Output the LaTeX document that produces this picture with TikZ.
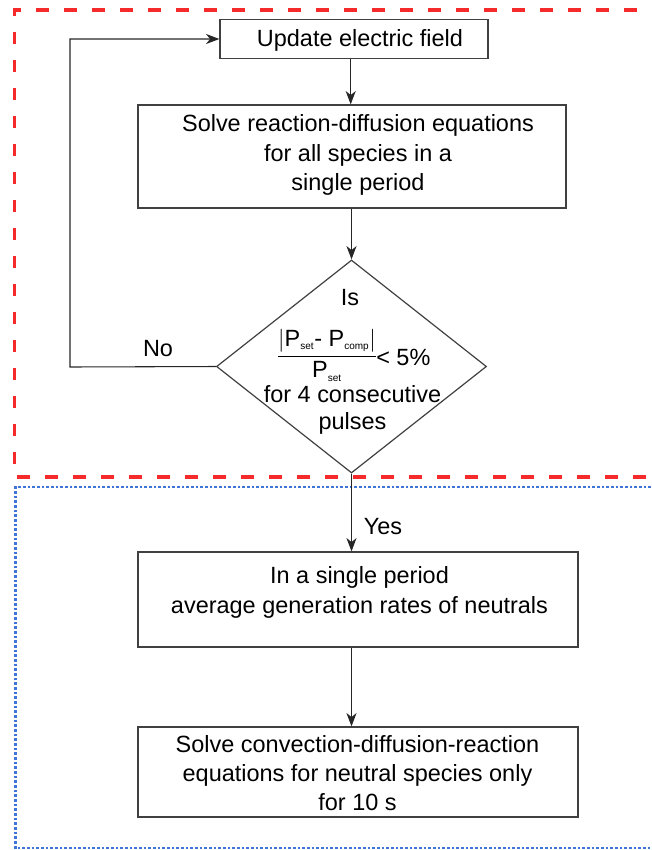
\documentclass[tikz,border=0pt]{standalone}
\usepackage{amsmath}
\usepackage{fontspec}
\setmainfont{Liberation Sans}
\usetikzlibrary{arrows.meta,shapes.geometric}
\definecolor{dashred}{HTML}{F52A2A}
\definecolor{dotblue}{HTML}{3F74D8}
\newcommand{\subsc}[1]{\mbox{\fontsize{7.5}{8}\selectfont #1}}
\begin{document}
\begin{tikzpicture}[x=0.75pt,y=-0.75pt,
  box/.style={draw=black!75, line width=0.9pt, inner sep=0pt, rectangle},
  txt/.style={align=center, inner sep=0pt, font=\fontsize{17.6}{21.9}\selectfont},
  arr/.style={-{Stealth[length=10pt,width=7.5pt,inset=3pt]}, line width=0.8pt, black!85},
  redframe/.style={draw=dashred, line width=2.3pt, dash pattern=on 9.4pt off 11.6pt},
  blueframe/.style={draw=dotblue, line width=2.1pt, dash pattern=on 2pt off 1.5pt}]
\useasboundingbox (0,0) rectangle (651,850);
% frames
\draw[redframe] (665,10) -- (14.5,10) -- (14.5,477) -- (665,477);
\draw[blueframe] (665,487) -- (15.5,487) -- (15.5,848) -- (665,848);
% boxes
\node[box, minimum width=201pt, minimum height=29.25pt] (b1) at (354,39) {};
\node[txt] (b1t) at (360,40) {Update electric field};
\node[box, minimum width=321pt, minimum height=77.25pt] (b2) at (352,156.5) {};
\node[txt] (b2t) at (358,155) {Solve reaction-diffusion equations\\for all species in a\\single period};
% diamond
\node[draw=black!75, line width=0.9pt, shape=diamond, minimum width=202.5pt, minimum height=159.75pt, inner sep=0pt] (d) at (351.5,366.5) {};
\node[txt] (dis) at (350,298) {Is};
\node[txt] (dfrac) at (327,355) {$\dfrac{\left|\text{P}_{\subsc{set}}\text{- P}_{\subsc{comp}}\right|}{\text{P}_{\subsc{set}}}$};
\node[txt, anchor=west] (dlt) at (376,357) {< 5\%};
\node[txt] (dfor) at (352.5,394) {for 4 consecutive};
\node[txt] (dpul) at (352.5,423) {pulses};
\node[box, minimum width=330pt, minimum height=71.25pt] (b3) at (358,599.5) {};
\node[txt] (b3t) at (359.5,592.5) {In a single period\\average generation rates of neutrals};
\node[box, minimum width=330pt, minimum height=67.5pt] (b4) at (358,772) {};
\node[txt] (b4t) at (357.5,773) {Solve convection-diffusion-reaction\\equations for neutral species only\\for 10 s};
% labels
\node[txt] (no) at (158,349) {No};
\node[txt] (yes) at (383,527) {Yes};
% connectors
\coordinate (lp) at (70,367);
\coordinate (ax) at (350.7,0);
\draw[arr] (b1.south -| ax) -- (b2.north -| ax);
\draw[arr] (b2.south -| d.north) -- (d.north);
\draw[arr] (d.west) -- (lp) |- (b1.west);
\draw[arr] (d.south) -- (b3.north -| d.south);
\draw[arr] (b3.south -| d.south) -- (b4.north -| d.south);
\end{tikzpicture}
\end{document}
